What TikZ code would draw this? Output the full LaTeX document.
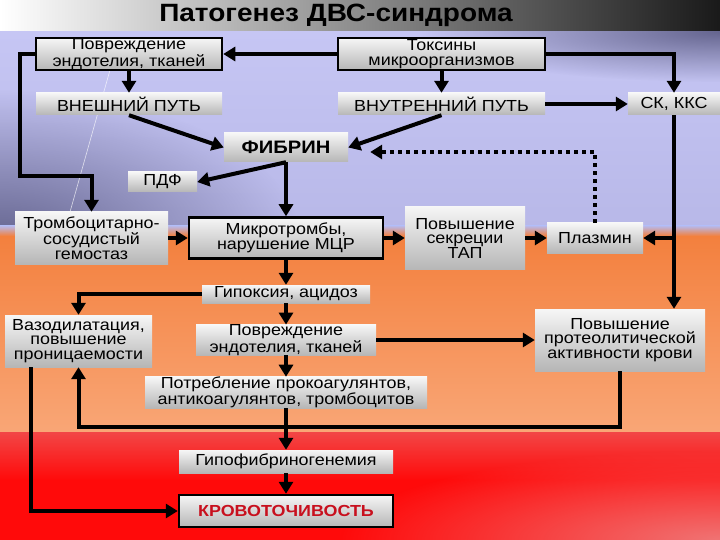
\documentclass[tikz,border=0pt]{standalone}
\usepackage{fontspec}
\setmainfont{Liberation Sans}[FakeStretch=1.12]
\usepackage{xcolor}
\usepackage{tikz}
\usetikzlibrary{arrows.meta,fadings}
\definecolor{lavtop}{HTML}{C6C6F4}
\definecolor{lavbot}{HTML}{B8B8E8}
\definecolor{slate}{HTML}{666690}
\definecolor{ortop}{HTML}{F3803E}
\definecolor{ormid}{HTML}{FF7822}
\definecolor{orbot}{HTML}{F9A676}
\definecolor{redtop}{HTML}{F24646}
\definecolor{redmid}{HTML}{FF0A0A}
\definecolor{redlow}{HTML}{F07474}
\definecolor{boxtop}{HTML}{F6F6F6}
\definecolor{boxbot}{HTML}{B6B6B6}
\definecolor{alert}{HTML}{C8101E}
\tikzfading[name=blob, inner color=transparent!0, outer color=transparent!100]
\tikzset{
  box/.style={top color=boxtop, bottom color=boxbot, inner sep=0pt, align=center,
    font=\fontsize{16}{14.5}\selectfont},
  framed/.style={box, draw=black, line width=2.5pt},
  arr/.style={line width=4pt, -{Triangle[length=12pt,width=14pt]}},
  dotarr/.style={arr, dash pattern=on 4pt off 4pt}
}

\begin{document}
\begin{tikzpicture}[x=1pt,y=-1pt]
  \useasboundingbox (0,0) rectangle (720,540);
  % background
  \shade[left color=white, middle color=black!22, right color=black!90] (0,0) rectangle (720,32);
  \shade[top color=lavtop, bottom color=lavbot] (0,32) rectangle (720,228);
  \begin{scope}
    \clip (0,32) rectangle (720,228);
    \fill[slate, path fading=blob] (0,240) ellipse (300pt and 150pt);
    \fill[slate, path fading=blob] (720,32) ellipse (300pt and 50pt);
  \end{scope}
  \shade[top color=lavbot, bottom color=ortop] (0,226) rectangle (720,236);
  \shade[top color=ortop, middle color=ormid, bottom color=orbot] (0,236) rectangle (720,432);
  \shade[top color=redtop, bottom color=redmid] (0,432) rectangle (720,480);
  \fill[redmid] (0,480) rectangle (720,540);
  \begin{scope}
    \clip (0,432) rectangle (720,540);
    \fill[redlow, path fading=blob] (720,540) ellipse (380pt and 90pt);
  \end{scope}
  \draw[white, opacity=0.7, line width=0.6pt] (110,70) -- (70,212);

  \node[font=\bfseries\fontsize{25}{25}\selectfont] (title) at (336,15) {Патогенез ДВС-синдрома};

  % top row
  \node[framed, minimum width=186pt, minimum height=32pt] (povr1) at (129,54) {Повреждение\\эндотелия, тканей};
  \node[framed, minimum width=207pt, minimum height=32pt] (toks) at (441.5,54) {Токсины\\микроорганизмов};
  \node[box, minimum width=186pt, minimum height=22pt] (vnesh) at (129,104) {ВНЕШНИЙ ПУТЬ};
  \node[box, minimum width=207pt, minimum height=22pt] (vnutr) at (441.5,104) {ВНУТРЕННИЙ ПУТЬ};
  \node[box, minimum width=92pt, minimum height=22pt] (skkks) at (674,104) {СК, ККС};
  \node[box, minimum width=124pt, minimum height=29pt, font=\bfseries\fontsize{18}{18}\selectfont] (fibrin) at (286,147.5) {ФИБРИН};
  \node[box, minimum width=69pt, minimum height=20pt] (pdf) at (162.5,182) {ПДФ};

  % middle
  \node[box, minimum width=153pt, minimum height=52pt] (tromb) at (91.5,238) {Тромбоцитарно-\\сосудистый\\гемостаз};
  \node[framed, minimum width=194pt, minimum height=41pt] (mikro) at (286,238) {Микротромбы,\\нарушение МЦР};
  \node[box, minimum width=120pt, minimum height=63pt] (tap) at (465,238) {Повышение\\секреции\\ТАП};
  \node[box, minimum width=96pt, minimum height=30pt] (plazm) at (595,238) {Плазмин};
  \node[box, minimum width=168pt, minimum height=18pt] (gipox) at (286,294) {Гипоксия, ацидоз};
  \node[box, minimum width=147pt, minimum height=52pt] (vazo) at (78.5,341) {Вазодилатация,\\повышение\\проницаемости};
  \node[box, minimum width=180pt, minimum height=27pt] (povr2) at (286,340) {Повреждение\\эндотелия, тканей};
  \node[box, minimum width=170pt, minimum height=62pt] (proteo) at (620,340) {Повышение\\протеолитической\\активности крови};
  \node[box, minimum width=282pt, minimum height=31pt] (potr) at (286,392.5) {Потребление прокоагулянтов,\\антикоагулянтов, тромбоцитов};

  % bottom
  \node[box, minimum width=214pt, minimum height=23pt] (gipof) at (286,461.5) {Гипофибриногенемия};
  \node[framed, minimum width=214pt, minimum height=32pt, text=alert, font=\bfseries\fontsize{16}{16}\selectfont] (krov) at (286,511) {КРОВОТОЧИВОСТЬ};

  % connectors
  \coordinate (lft) at (20,176);
  \draw[arr] (toks.west) -- (povr1.east);
  \draw[arr] (toks.east) -| (skkks.north);
  \draw[arr] (povr1.south) -- (vnesh.north);
  \draw[arr] (toks.south) -- (vnutr.north);
  \draw[arr] (vnutr.east) -- (skkks.west);
  \draw[arr] (vnesh.south) -- (fibrin.west);
  \draw[arr] (vnutr.south) -- (fibrin.east);
  \draw[dotarr, shorten >=22pt] (plazm.north) |- ([yshift=-4.5pt]fibrin.east);
  \draw[arr] (fibrin.south) -- (pdf.east);
  \draw[arr] (fibrin.south) -- (mikro.north);
  \draw[arr] (povr1.west) -| (lft) -| (tromb.north);
  \draw[arr] (skkks.south) -- (skkks.south |- proteo.north);
  \draw[arr] (skkks.south |- plazm.east) -- (plazm.east);
  \draw[arr] (tromb.east) -- (mikro.west);
  \draw[arr] (mikro.east) -- (tap.west);
  \draw[arr] (tap.east) -- (plazm.west);
  \draw[arr] (mikro.south) -- (gipox.north);
  \draw[arr] (gipox.west) -| (vazo.north);
  \draw[arr] (gipox.south) -- (povr2.north);
  \draw[arr] (povr2.east) -- (proteo.west);
  \draw[arr] (povr2.south) -- (potr.north);
  \draw[arr] (potr.south) -- (gipof.north);
  \draw[arr] (gipof.south) -- (krov.north);
  \draw[arr] (proteo.south) |- ([yshift=-60pt]vazo.south) -- (vazo.south);
  \draw[arr] ([xshift=-48pt]vazo.south) |- (krov.west);
\end{tikzpicture}
\end{document}
